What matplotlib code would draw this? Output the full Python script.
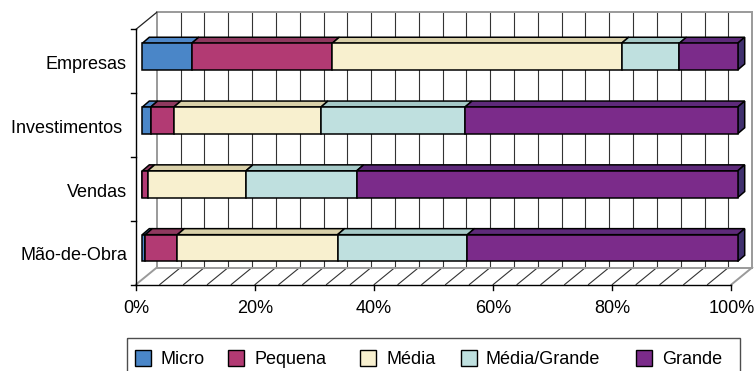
import matplotlib
matplotlib.use('Agg')
import matplotlib.pyplot as plt
import matplotlib.transforms as mtransforms
from matplotlib.patches import Polygon, Rectangle

plt.rcParams['font.family'] = ['Liberation Sans', 'DejaVu Sans']

# ── Data (percent of total per category) ──────────────────────────
categories = ['Mão-de-Obra', 'Vendas', 'Investimentos ', 'Empresas']
series_names = ['Micro', 'Pequena', 'Média', 'Média/Grande', 'Grande']
micro = [0.5, 0.0, 1.4, 8.3]
pequena = [5.4, 0.9, 3.9, 23.6]
media = [26.9, 16.5, 24.7, 48.6]
media_grande = [21.8, 18.6, 24.2, 9.7]
grande = [45.4, 64.0, 45.8, 9.8]
tick_values = [0, 20, 40, 60, 80, 100]
tick_labels = ['0%', '20%', '40%', '60%', '80%', '100%']

series = [micro, pequena, media, media_grande, grande]
front_colors = ['#4A86C8', '#B23A73', '#F8F0CF', '#BFE0DF', '#7B2B8A']
top_colors = ['#4F88C9', '#8F395F', '#D9D0A9', '#A5C9C7', '#5E2A7A']
side_color = '#40306E'

W, H = 754, 371
fig = plt.figure(figsize=(W / 100, H / 100), dpi=100)
ax = fig.add_axes([0, 0, 1, 1])

# bar front plane: 0% at px 142.3, 100% at px 737.7, rows 63.8 px apart
sx = 595.4 / 100
sy = 63.8
ax.set_xlim(-142.3 / sx, (W - 142.3) / sx)
ax.set_ylim((248 - H) / sy, 248 / sy)
ax.axis('off')

# 3D offsets relative to the bar front plane
FX, FY = -6.3 / sx, -4.6 / sy     # front of the box (axes)
BX, BY = 14.5 / sx, 12.4 / sy     # back wall
DX, DY = 7.0 / sx, 6.0 / sy       # bar depth
bar_h = 26.7 / sy

n = len(categories)
floor_f = -0.5 + FY
floor_b = -0.5 + BY
top_f = n - 0.5 + FY
top_b = n - 0.5 + BY

grid_c = '#333333'
edge_c = '#9A9A9A'

# ── Walls / grid ──────────────────────────────────────────────────
for v in range(0, 101, 4):
    c = edge_c if v in (0, 100) else grid_c
    lw = 1.4 if v in (0, 100) else 0.8
    ax.plot([v + BX, v + BX], [floor_b, top_b], color=c, lw=lw, zorder=1)
    ax.plot([v + FX, v + BX], [floor_f, floor_b], color=c, lw=lw, zorder=1)
ax.plot([BX, 100 + BX], [top_b, top_b], color=edge_c, lw=1.4, zorder=1)
ax.plot([BX, 100 + BX], [floor_b, floor_b], color=edge_c, lw=1.4, zorder=1)

# left wall + axes
ax.plot([FX, FX], [floor_f, top_f], color='black', lw=1.0, zorder=2)
ax.plot([FX, BX], [top_f, top_b], color='#222222', lw=0.9, zorder=2)
ax.plot([FX, 100 + FX], [floor_f, floor_f], color='black', lw=1.0, zorder=2)
for b in range(n + 1):
    y = b - 0.5 + FY
    ax.plot([FX - 5 / sx, FX], [y, y], color='black', lw=1.0, zorder=2)
for v, lab in zip(tick_values, tick_labels):
    ax.plot([v + FX, v + FX], [floor_f, floor_f - 5 / sy], color='black', lw=1.0, zorder=2)
    ax.text(v + FX, -1.024, lab, ha='center', va='baseline', fontsize=13)

# ── Bars ──────────────────────────────────────────────────────────
ys = list(range(n))
lefts = [0.0] * n
for k, vals in enumerate(series):
    ax.barh(ys, vals, left=lefts, height=bar_h, color=front_colors[k],
            edgecolor='black', linewidth=1.1, zorder=5)
    for i in range(n):
        if vals[i] <= 0:
            continue
        x0, x1 = lefts[i], lefts[i] + vals[i]
        yt = i + bar_h / 2
        ax.add_patch(Polygon([(x0, yt), (x1, yt), (x1 + DX, yt + DY), (x0 + DX, yt + DY)],
                             closed=True, facecolor=top_colors[k], edgecolor='black',
                             linewidth=1.1, zorder=4))
    lefts = [l + v for l, v in zip(lefts, vals)]

for i in range(n):
    x1 = lefts[i]
    yb, yt = i - bar_h / 2, i + bar_h / 2
    ax.add_patch(Polygon([(x1, yb), (x1 + DX, yb + DY), (x1 + DX, yt + DY), (x1, yt)],
                         closed=True, facecolor=side_color, edgecolor='black',
                         linewidth=1.1, zorder=4))

for i, lab in enumerate(categories):
    ax.text(-2.57, i - 0.194, lab, ha='right', va='baseline', fontsize=13)

# ── Legend (pixel coordinates, top-left origin) ──────────────────
pt = mtransforms.Affine2D().scale(1 / W, -1 / H).translate(0, 1) + fig.transFigure
ax.add_patch(Rectangle((127.3, 337.7), 612.7, 60, transform=pt, fill=False,
                       edgecolor='#4D4D4D', linewidth=1.0, clip_on=False, zorder=6))
sq_x = [135, 227.7, 360, 460.7, 635.7]
tx_x = [161, 254.3, 386.7, 485.7, 662.3]
for name, c, sx0, tx0 in zip(series_names, front_colors, sq_x, tx_x):
    ax.add_patch(Rectangle((sx0, 350), 16, 16, transform=pt, facecolor=c,
                           edgecolor='black', linewidth=1.0, clip_on=False, zorder=6))
    ax.text(tx0, 364, name, transform=pt, ha='left', va='baseline', fontsize=13)

fig.savefig('out.png', dpi=100, facecolor='white')
